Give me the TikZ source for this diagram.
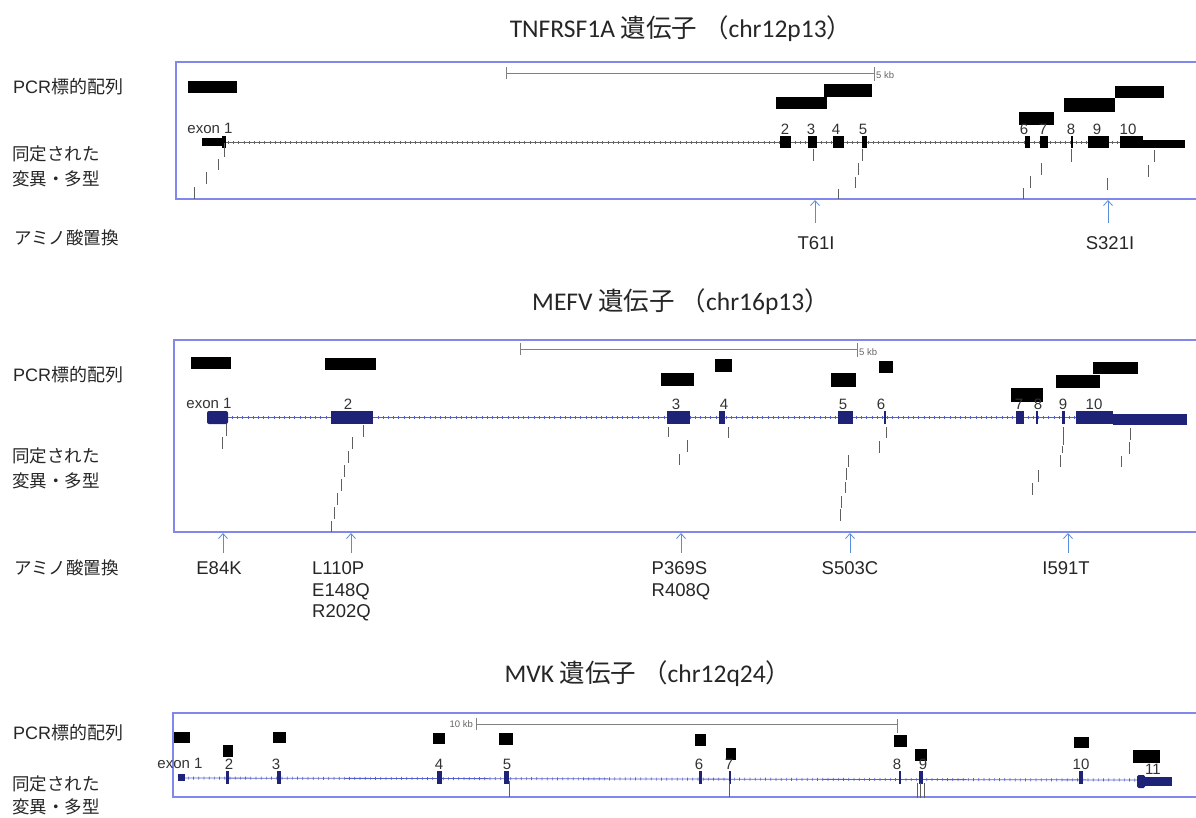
\documentclass[tikz,border=0pt]{standalone}
\usepackage{fontspec}
\setmainfont{Liberation Sans}
\newfontfamily\jpfont{Noto Sans CJK JP}
\newfontfamily\ttlfont{Carlito}
\usetikzlibrary{arrows.meta}
\definecolor{boxblue}{RGB}{130,135,235}
\definecolor{navy}{RGB}{30,35,120}
\definecolor{intronblue}{RGB}{85,95,205}
\definecolor{aablue}{RGB}{90,140,215}
\definecolor{tickgray}{RGB}{95,95,95}

\begin{document}
\begin{tikzpicture}[x=1pt, y=-1pt, every node/.style={inner sep=0pt},
	ttl/.style={font=\fontsize{25.5}{28}\selectfont\ttlfont, text=black!85},
	side/.style={font=\fontsize{18}{25}\selectfont, anchor=west, align=left, text=black!85},
	sidejp/.style={side, font=\fontsize{17.5}{25}\selectfont\jpfont},
	panel/.style={draw=boxblue, line width=1.1pt},
	scalebar/.style={draw=gray, line width=0.8pt},
	kb/.style={font=\fontsize{9.5}{10}\selectfont, text=black!60},
	pcr/.style={fill=black},
	exnum/.style={font=\fontsize{15}{16}\selectfont, anchor=south, inner sep=1pt, text=black!80},
	intronT/.style={draw=black!60, line width=0.8pt},
	intronB/.style={draw=intronblue, line width=0.8pt},
	introntick/.style={line width=3pt, dash pattern=on 0.7pt off 4.5pt},
	mut/.style={draw=tickgray, line width=0.8pt},
	aa/.style={draw=aablue, line width=0.8pt, -{Straight Barb[length=5pt,width=9pt]}},
	aalab/.style={font=\fontsize{18.5}{21.5}\selectfont, align=left, anchor=north, text=black!85}]
	\useasboundingbox (0,0) rectangle (1196,817);
	\clip (0,0) rectangle (1196,817);

	% TNFRSF1A
	\node[ttl] (ttlA) at (681,29) {TNFRSF1A {\jpfont 遺伝子 （}chr12p13{\jpfont ）}};
	\node[side] (pcrA) at (13,87) {PCR{\jpfont 標的配列}};
	\node[sidejp] (mutA) at (12,166) {同定された\\変異・多型};
	\node[sidejp] (aaA) at (14,238) {アミノ酸置換};
	\draw[panel] (1210,62) -- (176,62) -- (176,199) -- (1210,199);
	\draw[scalebar] (506,67) -- (506,79) (506,73) -- (874,73) (874,67) -- (874,81);
	\node[kb, anchor=west] (kbA) at (876,75) {5 kb};
	\foreach \xa/\ya/\xb/\yb in {188/81/237/93, 776/97/827/109, 824/84/872/97, 1019/112/1054/125, 1064/98/1115/112, 1115/86/1164/98}
		\fill[pcr] (\xa,\ya) rectangle (\xb,\yb);
	\draw[intronT] (222,142) -- (1184,142);
	\draw[intronT, introntick] (228,142) -- (1120,142);
	\fill (202,138) rectangle (222,146);
	\fill (222,136) rectangle (226,148);
	\node[exnum] (exA1) at (210,135) {exon 1};
	\foreach \xa/\xb/\lx/\lab in {780/791/785/2, 808/817/811/3, 833/844/836/4, 862/867/863/5, 1025/1030/1024/6, 1040/1048/1043/7, 1071/1073/1071/8, 1088/1109/1097/9, 1120/1143/1128/10} {
		\fill (\xa,136) rectangle (\xb,148);
		\node[exnum] at (\lx,136) {\lab};
	}
	\fill (1143,140) rectangle (1185,148);
	\foreach \x/\ya/\yb in {224/143/157, 218/159/170, 206/172/184, 194/187/199, 813/149/161, 862/149/161, 858/163/175, 855/177/188, 838/189/199, 1023/188/199, 1030/176/188, 1041/163/175, 1071/149/162, 1107/178/190, 1154/150/162, 1148/165/177}
		\draw[mut] (\x,\ya) -- (\x,\yb);
	\foreach \x in {815,1108}
		\draw[aa] (\x,223) -- (\x,200);
	\node[aalab] (t61i) at (816,236.5) {T61I};
	\node[aalab] (s321i) at (1110,236.5) {S321I};

	% MEFV
	\node[ttl] (ttlB) at (681,302) {MEFV {\jpfont 遺伝子 （}chr16p13{\jpfont ）}};
	\node[side] (pcrB) at (13,375) {PCR{\jpfont 標的配列}};
	\node[sidejp] (mutB) at (12,468) {同定された\\変異・多型};
	\node[sidejp] (aaB) at (14,568) {アミノ酸置換};
	\draw[panel] (1210,340) -- (174,340) -- (174,532) -- (1210,532);
	\draw[scalebar] (520,343) -- (520,355) (520,349) -- (857,349) (857,343) -- (857,357);
	\node[kb, anchor=west] (kbB) at (859,352) {5 kb};
	\foreach \xa/\ya/\xb/\yb in {191/357/231/369, 325/358/376/370, 661/373/694/386, 715/359/732/372, 831/373/856/387, 879/361/893/373, 1011/388/1043/402, 1056/375/1100/388, 1093/362/1138/374}
		\fill[pcr] (\xa,\ya) rectangle (\xb,\yb);
	\draw[intronB] (226,417) -- (1186,417);
	\draw[intronB, introntick] (232,417) -- (1076,417);
	\fill[navy, rounded corners=2pt] (207,411) rectangle (228,424);
	\node[exnum] (exB1) at (209,410) {exon 1};
	\foreach \xa/\xb/\lx/\lab in {331/373/348/2, 667/690/676/3, 719/725/724/4, 838/853/843/5, 884/886/881/6, 1016/1024/1019/7, 1036/1038/1038/8, 1062/1065/1063/9, 1076/1113/1094/10} {
		\fill[navy] (\xa,411) rectangle (\xb,424);
		\node[exnum] at (\lx,411) {\lab};
	}
	\fill[navy] (1113,414) rectangle (1187,425);
	\foreach \x/\ya/\yb in {226/424/436, 222/437/449, 363/425/437, 352/437/449, 348/451/463, 344/465/477, 341/479/491, 337/493/505, 334/507/519, 331/521/532, 668/427/437, 687/440/452, 679/454/465, 728/427/438, 886/427/438, 879/441/453, 848/455/467, 846/468/480, 845/482/493, 841/496/508, 840/509/521, 1063/427/445, 1062/446/453, 1060/455/467, 1038/470/482, 1032/483/495, 1130/428/440, 1129/442/454, 1121/456/467}
		\draw[mut] (\x,\ya) -- (\x,\yb);
	\foreach \x in {223,351,681,850,1068}
		\draw[aa] (\x,553) -- (\x,533);
	\node[aalab] (e84k) at (219,561.5) {E84K};
	\node[aalab, anchor=north west] (l110p) at (312,561.5) {L110P\\E148Q\\R202Q};
	\node[aalab] (p369s) at (681,561.5) {P369S\\R408Q};
	\node[aalab] (s503c) at (850,561.5) {S503C};
	\node[aalab] (i591t) at (1066,561.5) {I591T};

	% MVK
	\node[ttl] (ttlC) at (648,674) {MVK {\jpfont 遺伝子 （}chr12q24{\jpfont ）}};
	\node[side] (pcrC) at (13,733) {PCR{\jpfont 標的配列}};
	\node[sidejp, font=\fontsize{17.5}{23}\selectfont\jpfont] (mutC) at (12,795) {同定された\\変異・多型};
	\draw[panel] (1210,713) -- (173,713) -- (173,797) -- (1210,797);
	\draw[scalebar] (476,718) -- (476,730) (476,724) -- (897,724) (897,719) -- (897,733);
	\node[kb, anchor=east] (kbC) at (473,724) {10 kb};
	\foreach \xa/\ya/\xb/\yb in {174/732/190/743, 223/745/233/757, 273/732/286/743, 433/733/445/744, 499/733/513/745, 695/734/706/746, 726/748/736/760, 894/735/907/747, 915/749/927/761, 1074/737/1089/748, 1133/750/1160/763}
		\fill[pcr] (\xa,\ya) rectangle (\xb,\yb);
	\draw[intronB] (184,778) -- (1140,780);
	\draw[intronB, introntick] (188,778) -- (1136,780);
	\fill[navy] (178,774) rectangle (185,781);
	\node[exnum] (exC1) at (180,770) {exon 1};
	\foreach \xa/\xb/\lx/\lab in {226/229/229/2, 277/281/276/3, 437/442/439/4, 504/509/507/5, 699/702/699/6, 729/731/729/7, 899/901/897/8, 919/923/923/9, 1079/1083/1081/10} {
		\fill[navy] (\xa,771) rectangle (\xb,784);
		\node[exnum] at (\lx,771) {\lab};
	}
	\fill[navy, rounded corners=1.5pt] (1137,775) rectangle (1145,788);
	\fill[navy] (1145,777) rectangle (1172,786);
	\node[exnum] (exC11) at (1153,775.5) {11};
	\foreach \x/\ya/\yb in {509/781/797, 729/781/797, 917/783/798, 920/783/798, 924/783/798}
		\draw[mut] (\x,\ya) -- (\x,\yb);
\end{tikzpicture}
\end{document}
